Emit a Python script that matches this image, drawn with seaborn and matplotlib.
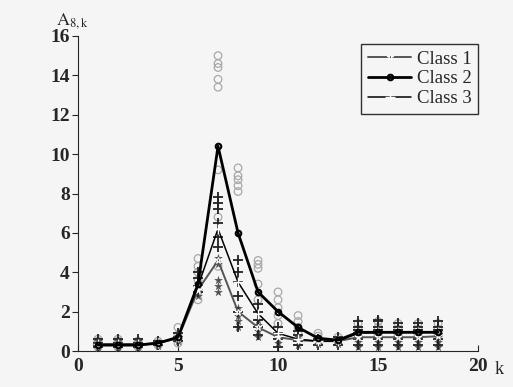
import numpy as np
import pandas as pd
import matplotlib
matplotlib.use("Agg")
import matplotlib.pyplot as plt
import seaborn as sns

# --- data ---
k = list(range(1, 19))

class1_mean = [0.3, 0.3, 0.3, 0.4, 0.65, 3.1, 4.6, 2.0, 1.2, 0.7, 0.55, 0.5, 0.5, 0.7, 0.7, 0.7, 0.7, 0.75]
class2_mean = [0.3, 0.3, 0.3, 0.4, 0.7, 3.4, 10.4, 6.0, 3.0, 2.0, 1.2, 0.65, 0.55, 0.95, 0.95, 0.95, 0.95, 0.95]
class3_mean = [0.35, 0.35, 0.35, 0.4, 0.7, 3.3, 6.2, 3.5, 1.9, 0.9, 0.6, 0.5, 0.5, 0.9, 0.95, 0.95, 0.95, 0.95]

# individual samples per k (circles = class 2, plus = class 3, stars = class 1)
class1_samples = [
    [0.15, 0.25, 0.35, 0.5], [0.15, 0.25, 0.35, 0.5], [0.15, 0.25, 0.35, 0.5], [0.25, 0.35, 0.45],
    [0.5, 0.6, 0.7, 0.9], [2.8, 3.1, 3.4], [3.0, 3.3, 3.6, 4.4, 4.7], [1.2, 1.5, 1.8, 2.2],
    [0.7, 1.0, 1.3, 1.6], [0.4, 0.6, 0.8], [0.3, 0.5, 0.7], [0.35, 0.5], [0.35, 0.5],
    [0.2, 0.45, 0.7, 0.95], [0.2, 0.45, 0.7, 0.95], [0.2, 0.45, 0.7, 0.95],
    [0.2, 0.45, 0.7, 0.95], [0.2, 0.45, 0.7, 0.95],
]
class2_samples = [
    [0.2, 0.3, 0.4, 0.5, 0.6], [0.2, 0.3, 0.4, 0.5, 0.6], [0.2, 0.3, 0.4, 0.5], [0.3, 0.4, 0.5],
    [0.4, 0.6, 0.8, 1.2], [2.6, 3.0, 3.6, 4.0, 4.3, 4.7], [4.3, 6.8, 9.2, 13.4, 13.8, 14.4, 14.6, 15.0],
    [8.1, 8.4, 8.7, 8.9, 9.3], [2.6, 3.4, 4.2, 4.4, 4.6], [1.4, 1.8, 2.2, 2.6, 3.0],
    [0.9, 1.2, 1.5, 1.8], [0.6, 0.75, 0.9], [0.5, 0.7], [0.8, 1.1, 1.4],
    [0.8, 1.2, 1.5], [0.8, 1.1, 1.4], [0.8, 1.1, 1.4], [0.8, 1.1, 1.4],
]
class3_samples = [
    [0.2, 0.3, 0.4, 0.6], [0.2, 0.3, 0.4, 0.6], [0.2, 0.3, 0.4, 0.6], [0.3, 0.5], [0.5, 0.7, 0.9],
    [3.0, 3.3, 3.7, 4.0], [5.3, 5.8, 6.5, 7.2, 7.5, 7.8], [1.2, 2.0, 2.8, 3.5, 4.0, 4.6],
    [0.8, 1.2, 1.6, 2.0, 2.4], [0.2, 0.6, 0.9, 1.2], [0.3, 0.5, 0.8, 1.0], [0.3, 0.5, 0.6],
    [0.3, 0.5, 0.7], [0.3, 0.6, 0.9, 1.05, 1.2, 1.5], [0.3, 0.6, 0.9, 1.05, 1.2, 1.5, 1.6],
    [0.3, 0.6, 0.9, 1.05, 1.2, 1.4], [0.3, 0.6, 0.9, 1.05, 1.2, 1.4], [0.3, 0.6, 0.9, 1.05, 1.2, 1.5],
]

x_ticks = [0, 5, 10, 15, 20]
y_ticks = [0, 2, 4, 6, 8, 10, 12, 14, 16]


def to_long(samples):
    rows = [(kk, v) for kk, vals in zip(k, samples) for v in vals]
    return pd.DataFrame(rows, columns=["k", "A"])


s1 = to_long(class1_samples)
s2 = to_long(class2_samples)
s3 = to_long(class3_samples)
means = pd.DataFrame({"k": k, "c1": class1_mean, "c2": class2_mean, "c3": class3_mean})

sns.set_style("ticks")
plt.rcParams["font.family"] = ["Liberation Serif", "DejaVu Serif"]
plt.rcParams["mathtext.fontset"] = "stix"

fig = plt.figure(figsize=(5.13, 3.87), dpi=100, facecolor="#f5f5f5")
ax = fig.add_axes([0.152, 0.093, 0.78, 0.814])
ax.set_facecolor("#f5f5f5")

# scattered samples
sns.scatterplot(data=s2, x="k", y="A", ax=ax, marker="o", s=30, facecolor="none",
                edgecolor="#a8a8a8", linewidth=0.9, zorder=2, legend=False)
sns.scatterplot(data=s1, x="k", y="A", ax=ax, marker="*", s=45, color="#555555",
                linewidth=0, zorder=3, legend=False)
sns.scatterplot(data=s3, x="k", y="A", ax=ax, marker="+", s=45, color="#222222",
                linewidth=1.3, zorder=3, legend=False)

# class mean lines
sns.lineplot(data=means, x="k", y="c1", ax=ax, color="#555555", lw=1.4, marker="*",
             markersize=5, label="Class 1", zorder=4)
sns.lineplot(data=means, x="k", y="c2", ax=ax, color="black", lw=2.0, marker="o",
             markersize=4, markerfacecolor="none", markeredgecolor="black",
             markeredgewidth=1.5, label="Class 2", zorder=5)
sns.lineplot(data=means, x="k", y="c3", ax=ax, color="black", lw=1.1, marker="+",
             markersize=7, markeredgewidth=1.0, label="Class 3", zorder=4)

ax.set_xlim(0, 20)
ax.set_ylim(0, 16)
ax.set_xticks(x_ticks)
ax.set_yticks(y_ticks)
ax.set_xlabel("")
ax.set_ylabel("")
for lbl in ax.get_xticklabels() + ax.get_yticklabels():
    lbl.set_fontweight("bold")
    lbl.set_fontsize(14)
ax.tick_params(axis="x", direction="in", length=4, pad=5)
ax.tick_params(axis="y", direction="out", length=4, pad=2)
sns.despine(ax=ax)

ax.text(-0.055, 1.035, r"$\mathrm{A}_{8,\mathrm{k}}$", transform=ax.transAxes,
        fontsize=13, ha="left", va="baseline")
ax.text(1.04, -0.06, "k", transform=ax.transAxes, fontsize=13, ha="left", va="center")

leg = ax.legend(loc="upper right", bbox_to_anchor=(1.0, 0.975), fontsize=13.5,
                frameon=True, fancybox=False, edgecolor="black", facecolor="#f5f5f5",
                handlelength=2.3, handletextpad=0.3, borderpad=0.35, labelspacing=0.15,
                borderaxespad=0)
leg.get_frame().set_linewidth(1.0)

fig.savefig("out.png", dpi=100, facecolor=fig.get_facecolor())
